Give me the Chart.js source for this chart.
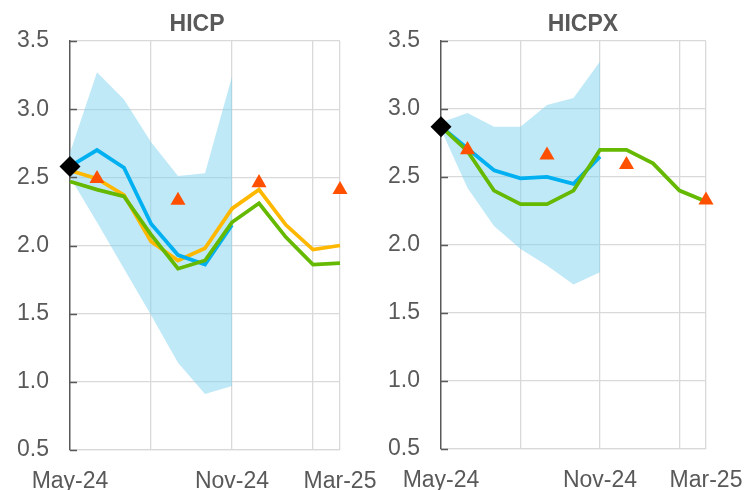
<!DOCTYPE html>
<html>
<head>
<meta charset="utf-8">
<script src="https://cdn.jsdelivr.net/npm/chart.js@4"></script>
<style>
  html, body { margin: 0; padding: 0; background: #ffffff; }
  #wrap { position: relative; width: 744px; height: 490px; overflow: hidden; background: #fff; }
  canvas { position: absolute; top: 0; }
  .ttl { position: absolute; top: 12px; width: 200px; text-align: center; font: bold 23px "Liberation Sans", Arial, sans-serif; line-height: 23px; color: #595959; }
</style>
</head>
<body>
<div id="wrap">
  <canvas id="c1" width="390" height="490" style="left:0px"></canvas>
  <canvas id="c2" width="372" height="490" style="left:372px"></canvas>
  <div class="ttl" style="left:97px">HICP</div>
  <div class="ttl" style="left:483px">HICPX</div>
</div>
<script>
// ---- data ----
const months = ['May-24','Jun-24','Jul-24','Aug-24','Sep-24','Oct-24','Nov-24','Dec-24','Jan-25','Feb-25','Mar-25'];
const xTickLabels = ['May-24','','','','','','Nov-24','','','','Mar-25'];
const xGridAt = [false,false,false,true,false,false,true,false,false,true,true];
const yTicks = [0.5, 1.0, 1.5, 2.0, 2.5, 3.0, 3.5];

// HICP panel
const hicpActual   = [2.58, null, null, null, null, null, null, null, null, null, null];
const hicpBlue     = [2.58, 2.70, 2.57, 2.16, 1.93, 1.86, 2.15, null, null, null, null];
const hicpOrange   = [2.55, 2.49, 2.37, 2.03, 1.89, 1.98, 2.27, 2.41, 2.15, 1.97, 2.00];
const hicpGreen    = [2.47, 2.41, 2.36, 2.08, 1.83, 1.89, 2.17, 2.31, 2.06, 1.86, 1.87];
const hicpTriangle = [null, 2.49, null, null, 2.33, null, null, 2.46, null, null, 2.41];
const hicpBandHigh = [2.68, 3.27, 3.07, 2.76, 2.51, 2.53, 3.24, null, null, null, null];
const hicpBandLow  = [2.50, 2.17, 1.83, 1.49, 1.14, 0.91, 0.97, null, null, null, null];

// HICPX panel
const hicpxActual   = [2.87, null, null, null, null, null, null, null, null, null, null];
const hicpxBlue     = [2.87, 2.71, 2.55, 2.49, 2.50, 2.45, 2.65, null, null, null, null];
const hicpxGreen    = [2.87, 2.69, 2.40, 2.30, 2.30, 2.40, 2.70, 2.70, 2.60, 2.40, 2.32];
const hicpxTriangle = [null, 2.70, null, null, 2.66, null, null, 2.59, null, null, 2.33];
const hicpxBandHigh = [2.90, 2.97, 2.87, 2.87, 3.03, 3.08, 3.35, null, null, null, null];
const hicpxBandLow  = [2.85, 2.42, 2.14, 1.97, 1.85, 1.71, 1.80, null, null, null, null];

// ---- styles ----
const C_BLUE = '#00b0f0', C_ORANGE = '#ffb800', C_GREEN = '#65b900', C_TRI = '#ff5000';
const C_BAND = 'rgba(129,211,241,0.5)', C_TEXT = '#595959', C_GRID = '#d9d9d9';
const FONT = '"Liberation Sans", Arial, sans-serif';

const innerTicks = {
  id: 'innerTicks',
  afterDraw(chart) {
    const y = chart.scales.y, ctx = chart.ctx, x0 = chart.chartArea.left;
    ctx.save();
    ctx.strokeStyle = C_TEXT; ctx.lineWidth = 1.5;
    yTicks.forEach(v => {
      const p = Math.round(y.getPixelForValue(v)) + 0.5;
      ctx.beginPath(); ctx.moveTo(x0, p); ctx.lineTo(x0 + 7, p); ctx.stroke();
    });
    ctx.restore();
  }
};

function lineDs(data, color, order) {
  return { data, borderColor: color, borderWidth: 3.75, pointRadius: 0, fill: false,
           tension: 0, spanGaps: false, clip: false, order };
}

function makeChart(id, sets, yWidth, xHeight, padRight) {
  const ds = [
    { data: sets.low, borderWidth: 0, pointRadius: 0, fill: false, order: 10, backgroundColor: C_BAND },
    { data: sets.high, borderWidth: 0, pointRadius: 0, fill: '-1', order: 9, backgroundColor: C_BAND },
  ];
  if (sets.orange) ds.push(lineDs(sets.orange, C_ORANGE, 5));
  ds.push(lineDs(sets.blue, C_BLUE, 4));
  ds.push(lineDs(sets.green, C_GREEN, 3));
  ds.push({ data: sets.tri, showLine: false, pointStyle: 'triangle', pointRadius: 8.7,
            pointBackgroundColor: C_TRI, pointBorderWidth: 0, clip: false, order: 2 });
  ds.push({ data: sets.actual, showLine: false, pointStyle: 'rectRot', pointRadius: 10.5,
            pointBackgroundColor: '#000', pointBorderWidth: 0, clip: false, order: 1 });

  return new Chart(document.getElementById(id), {
    type: 'line',
    data: { labels: months, datasets: ds },
    options: {
      responsive: false, animation: false, devicePixelRatio: 1,
      layout: { padding: { left: 0, right: padRight, top: 41, bottom: 0 } },
      plugins: { legend: { display: false }, tooltip: { enabled: false }, title: { display: false } },
      elements: { line: { borderJoinStyle: 'miter', borderCapStyle: 'butt' } },
      scales: {
        x: {
          type: 'category', offset: false,
          afterFit(s) { s.height = xHeight; s.paddingLeft = 0; s.paddingRight = 0; },
          grid: { offset: false, drawTicks: false, lineWidth: 1.3,
                  color: c => xGridAt[c.index] ? C_GRID : 'rgba(0,0,0,0)' },
          border: { display: true, color: C_GRID, width: 1.3 },
          ticks: { autoSkip: false, maxRotation: 0, minRotation: 0, padding: 18,
                   color: C_TEXT, font: { family: FONT, size: 23 },
                   callback: (v, i) => xTickLabels[i] }
        },
        y: {
          min: 0.5, max: 3.5,
          afterFit(s) { s.width = yWidth; },
          afterBuildTicks(s) { s.ticks = yTicks.map(v => ({ value: v })); },
          grid: { drawTicks: false, color: C_GRID, lineWidth: 1.3 },
          border: { display: true, color: C_TEXT, width: 1.5 },
          ticks: { padding: 21, color: C_TEXT, font: { family: FONT, size: 23 },
                   callback: v => Number(v).toFixed(1) }
        }
      }
    },
    plugins: [innerTicks]
  });
}

makeChart('c1', { low: hicpBandLow, high: hicpBandHigh, orange: hicpOrange, blue: hicpBlue,
                  green: hicpGreen, tri: hicpTriangle, actual: hicpActual }, 70, 40, 50);
makeChart('c2', { low: hicpxBandLow, high: hicpxBandHigh, blue: hicpxBlue,
                  green: hicpxGreen, tri: hicpxTriangle, actual: hicpxActual }, 69, 41, 38);
</script>
</body>
</html>
